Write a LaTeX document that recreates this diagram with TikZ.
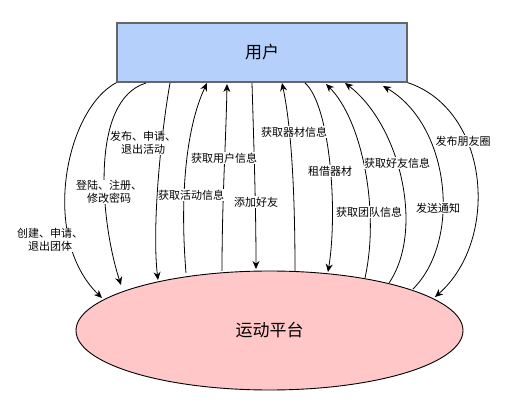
\documentclass[tikz,border=0pt]{standalone}
\usepackage{fontspec}
\setmainfont{Noto Sans CJK SC}
\usetikzlibrary{arrows.meta,shapes.geometric}
\definecolor{userfill}{HTML}{B5D0FA}
\definecolor{userline}{HTML}{666666}
\definecolor{platfill}{HTML}{FFC7C7}
\tikzset{
  userbox/.style={draw=userline,line width=1.2pt,fill=userfill,minimum width=290pt,minimum height=59pt,inner sep=0pt,font=\fontsize{17}{20}\selectfont},
  platbox/.style={ellipse,draw=black,line width=0.9pt,fill=platfill,minimum width=387pt,minimum height=119pt,inner sep=0pt,font=\fontsize{17}{20}\selectfont},
  link/.style={draw=black,line width=0.8pt,-{Stealth[length=8pt,width=7pt]}},
  lbl/.style={fill=white,inner sep=0.5pt,align=center,font=\fontsize{11}{13.5}\selectfont}
}
\begin{document}
\begin{tikzpicture}[x=1pt,y=-1pt]
\useasboundingbox (0,0) rectangle (511,411);
\node[platbox] (plat) at (269.5,330.5) {运动平台};
\node[userbox] (user) at (262,52.5) {用户};
% endpoints on user
\coordinate (u2) at (146,83);
\coordinate (u3) at (170,83);
\coordinate (u4) at (207,83);
\coordinate (u5) at (227,84);
\coordinate (u6) at (252,83);
\coordinate (u7) at (282,83);
\coordinate (u8) at (305,83);
\coordinate (u9) at (326,84);
\coordinate (u10) at (345,83);
\coordinate (u11) at (383,86);
% endpoints on platform
\coordinate (p1) at (102,298);
\coordinate (p2) at (121,285);
\coordinate (p3) at (158,280);
\coordinate (p4) at (186,273);
\coordinate (p5) at (222,271);
\coordinate (p6) at (256,269);
\coordinate (p7) at (295,271);
\coordinate (p8) at (328,272);
\coordinate (p9) at (365,278);
\coordinate (p10) at (389,283);
\coordinate (p11) at (413,289);
\coordinate (p12) at (435,297);
% connectors
\draw[link] (user.south west) .. controls (65,110) and (40,238) .. (p1);
\draw[link] (u2) .. controls (90,100) and (100,220) .. (p2);
\draw[link] (u3) .. controls (160,140) and (152,230) .. (p3);
\draw[link] (p4) .. controls (180,200) and (185,130) .. (u4);
\draw[link] (p5) .. controls (222,200) and (226,140) .. (u5);
\draw[link] (u6) .. controls (254,150) and (256,210) .. (p6);
\draw[link] (p7) .. controls (295,200) and (292,130) .. (u7);
\draw[link] (u8) .. controls (330,105) and (338,210) .. (p8);
\draw[link] (p9) .. controls (380,210) and (362,120) .. (u9);
\draw[link] (p10) .. controls (425,230) and (400,125) .. (u10);
\draw[link] (p11) .. controls (462,240) and (450,125) .. (u11);
\draw[link] (user.south east) .. controls (490,110) and (500,240) .. (p12);
% labels
\node[lbl] (l1) at (50,240) {创建、申请、\\退出团体};
\node[lbl] (l2) at (109,192) {登陆、注册、\\修改密码};
\node[lbl] (l3) at (143,143) {发布、申请、\\退出活动};
\node[lbl] (l4) at (191,195) {获取活动信息};
\node[lbl] (l5) at (224,158) {获取用户信息};
\node[lbl] (l6) at (256,202) {添加好友};
\node[lbl] (l7) at (294,132) {获取器材信息};
\node[lbl] (l8) at (330,171) {租借器材};
\node[lbl] (l9) at (369,212) {获取团队信息};
\node[lbl] (l10) at (397,163) {获取好友信息};
\node[lbl] (l11) at (438,208) {发送通知};
\node[lbl] (l12) at (463,141) {发布朋友圈};
\end{tikzpicture}
\end{document}
